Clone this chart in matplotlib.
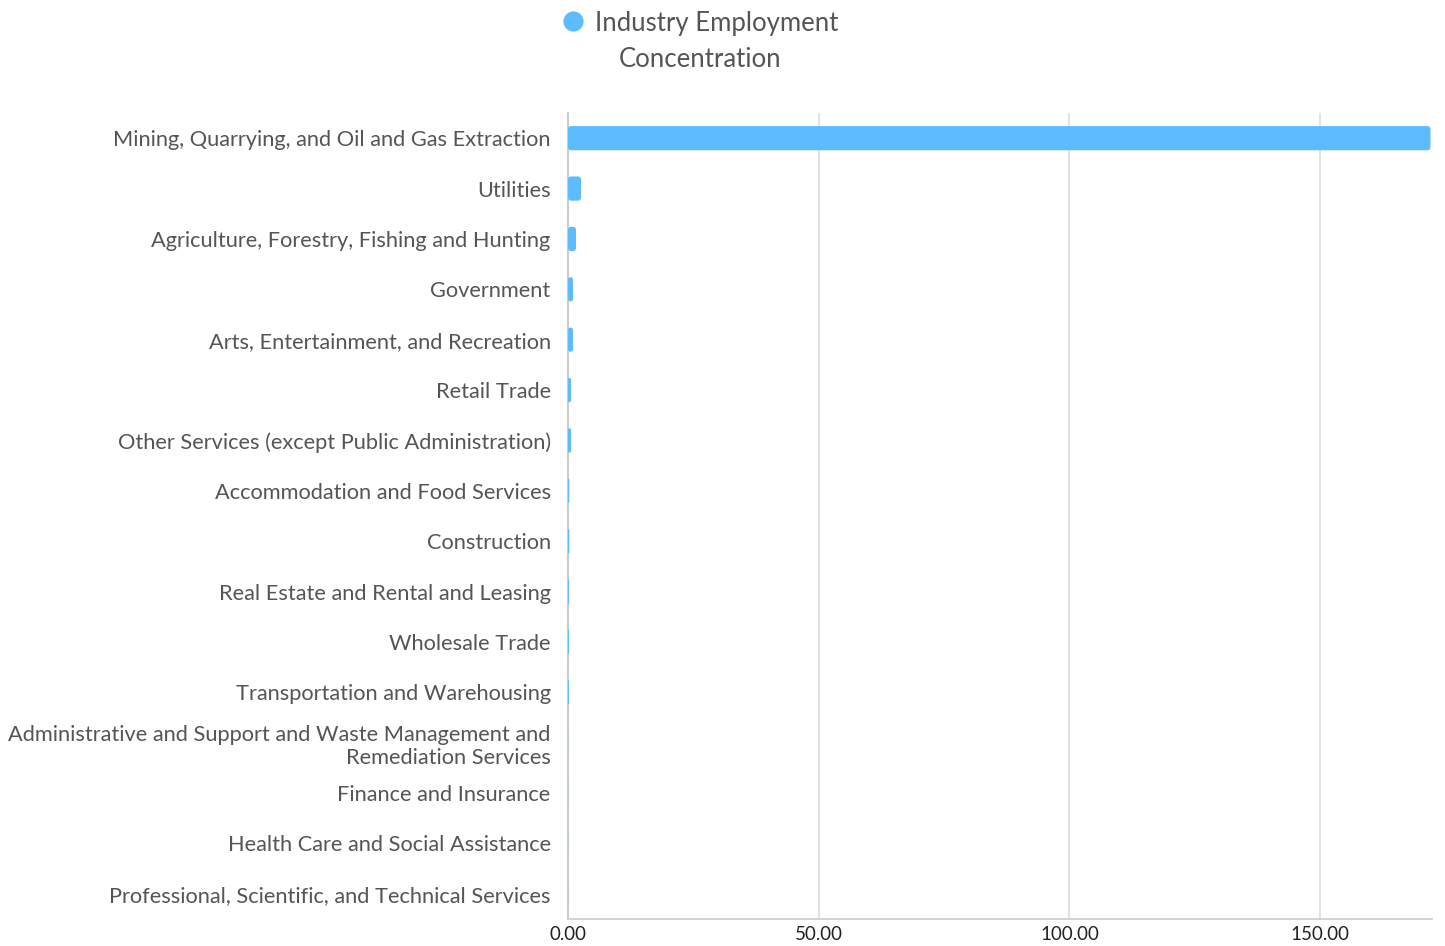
import matplotlib
matplotlib.use("Agg")
import matplotlib.pyplot as plt
from matplotlib.patches import FancyBboxPatch
from matplotlib.lines import Line2D

categories = [
    "Mining, Quarrying, and Oil and Gas Extraction",
    "Utilities",
    "Agriculture, Forestry, Fishing and Hunting",
    "Government",
    "Arts, Entertainment, and Recreation",
    "Retail Trade",
    "Other Services (except Public Administration)",
    "Accommodation and Food Services",
    "Construction",
    "Real Estate and Rental and Leasing",
    "Wholesale Trade",
    "Transportation and Warehousing",
    "Administrative and Support and Waste Management and\nRemediation Services",
    "Finance and Insurance",
    "Health Care and Social Assistance",
    "Professional, Scientific, and Technical Services",
]
values = [172.0, 2.6, 1.6, 1.0, 1.0, 0.6, 0.6, 0.25, 0.25, 0.2, 0.2, 0.2, 0.02, 0.02, 0.02, 0.02]
series_name_lines = ["Industry Employment", "Concentration"]
xticks = [0, 50, 100, 150]

color = "#5CBCFE"
text_color = "#555555"

W, H = 1445, 946
fig = plt.figure(figsize=(W / 100, H / 100), dpi=100)
ax = fig.add_axes([568 / W, (H - 919) / H, (1432 - 568) / W, (919 - 113) / H])

y = list(range(len(categories)))
bars = ax.barh(y, values, height=0.48, color=color, zorder=3)
ax.set_ylim(len(categories) - 0.5, -0.5)
ax.set_xlim(0, 172.3)

# rounded corners (x unit ~5px, y unit ~50px)
for b in bars:
    x0, y0, w, h = b.get_x(), b.get_y(), b.get_width(), b.get_height()
    b.set_visible(False)
    r = min(0.6, w / 2)
    fb = FancyBboxPatch((x0, y0), w, h, boxstyle=f"round,pad=0,rounding_size={r}",
                        mutation_aspect=0.1, facecolor=color, edgecolor="none", zorder=3)
    ax.add_patch(fb)

ax.set_yticks(y)
ax.set_yticklabels(categories, fontfamily="Lato", fontsize=15.7, color=text_color)
for t in ax.get_yticklabels():
    t.set_linespacing(1.22)
ax.tick_params(axis="y", length=0, pad=12.5)
ax.set_xticks(xticks)
ax.set_xticklabels([f"{v:.2f}" for v in xticks], fontfamily="Lato", fontsize=13.5, color="#222222")
ax.tick_params(axis="x", length=0, pad=5)

ax.grid(axis="x", color="#dddddd", linewidth=1.2, zorder=0)
for s in ["top", "right"]:
    ax.spines[s].set_visible(False)
ax.spines["left"].set_color("#cccccc")
ax.spines["left"].set_linewidth(1.5)
ax.spines["bottom"].set_color("#cccccc")
ax.spines["bottom"].set_linewidth(1.2)

# legend
fig.add_artist(Line2D([573 / W], [1 - 21 / H], marker="o", linestyle="none", markersize=14.5,
                      markerfacecolor=color, markeredgecolor="none", transform=fig.transFigure))
fig.text(717 / W, 1 - 23.5 / H, series_name_lines[0], ha="center", va="center",
         fontfamily="Lato", fontsize=18.5, color=text_color)
fig.text(700 / W, 1 - 59.5 / H, series_name_lines[1], ha="center", va="center",
         fontfamily="Lato", fontsize=18.5, color=text_color)

fig.savefig("out.png", dpi=100)
